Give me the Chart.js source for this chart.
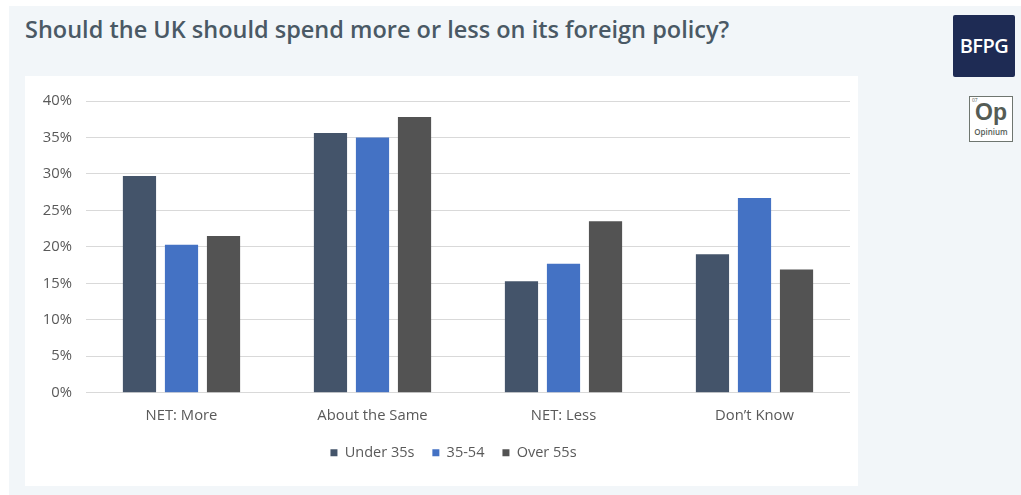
<!DOCTYPE html>
<html>
<head>
<meta charset="utf-8">
<script src="https://cdn.jsdelivr.net/npm/chart.js@4"></script>
<style>
  html, body { margin: 0; padding: 0; background: #ffffff; }
  body { width: 1021px; height: 495px; position: relative; overflow: hidden; font-family: "Open Sans", sans-serif; }
  .bg { position: absolute; left: 9px; top: 6px; right: 0; bottom: 0; background: #f2f6f9; }
  h1 { position: absolute; left: 25px; top: 13px; margin: 0; font-size: 23.5px; font-weight: 600; color: #4a5965; white-space: nowrap; }
  .panel { position: absolute; left: 25px; top: 76px; width: 833px; height: 410px; background: #ffffff; }
  .grafico { position: absolute; left: 25px; top: 76px; }
  .bfpg { position: absolute; left: 953px; top: 15px; width: 62px; height: 62px; background: #1e2b54; border-radius: 2px; color: #fff; font-size: 20px; font-weight: 600; line-height: 62px; text-align: center; letter-spacing: -0.5px; }
  .op { position: absolute; left: 969px; top: 96px; width: 42px; height: 44px; background: #fff; border: 1px solid #6f7670; color: #555c55; text-align: center; }
  .op .num { position: absolute; left: 2px; top: 0px; font-size: 5px; }
  .op .sym { position: absolute; left: 0; right: 0; top: 2px; font-size: 23px; font-weight: 700; line-height: 26px; font-family: "Liberation Sans", sans-serif; }
  .op .name { position: absolute; left: 0; right: 0; top: 29px; font-size: 8px; font-weight: 600; }
</style>
</head>
<body>
<div class="bg"></div>
<h1>Should the UK should spend more or less on its foreign policy?</h1>
<div class="bfpg">BFPG</div>
<div class="op"><span class="num">07</span><span class="sym">Op</span><span class="name">Opinium</span></div>
<div class="panel"></div>
<div class="grafico"><canvas id="chart" width="857" height="410"></canvas></div>
<script>
// survey answers, share of respondents (%) by age group
const categorias = ['NET: More', 'About the Same', 'NET: Less', 'Don\u2019t Know'];
const grupos = ['Under 35s', '35-54', 'Over 55s'];
const menos35 = [29.7, 35.6, 15.3, 19.0];
const de35a54 = [20.3, 35.0, 17.7, 26.7];
const mais55 = [21.5, 37.8, 23.5, 16.9];
const cores = ['#44546a', '#4472c4', '#535353'];

function preencherGrafico() {
  const ctx = document.getElementById('chart');
  const fonteEixo = { family: '"Open Sans", sans-serif', size: 14.8 };
  const fonteLegenda = { family: '"Open Sans", sans-serif', size: 14.5 };
  new Chart(ctx, {
    type: 'bar',
    data: {
      labels: categorias,
      datasets: [menos35, de35a54, mais55].map((valores, i) => ({
        label: grupos[i],
        data: valores,
        backgroundColor: cores[i],
        borderWidth: 0,
        barPercentage: 0.79,
        categoryPercentage: 0.66
      }))
    },
    options: {
      responsive: false,
      animation: false,
      layout: { padding: { top: 25, right: 0, left: 0, bottom: 16 } },
      scales: {
        x: {
          grid: { display: false },
          border: { display: false },
          ticks: { color: '#595959', font: fonteEixo, padding: 6 },
          afterFit: s => { s.height -= 3; }
        },
        y: {
          min: 0,
          max: 40,
          ticks: { stepSize: 5, color: '#595959', font: fonteEixo, padding: 14, callback: v => v + '%' },
          grid: { color: '#d9d9d9', lineWidth: 1, drawTicks: false },
          border: { display: false },
          afterFit: s => { s.width = 61; }
        },
        // empty axis on the right: keeps the plot inside the white panel
        // while the legend centres on the full canvas width
        margem: {
          position: 'right',
          grid: { display: false },
          border: { display: false },
          ticks: { display: false },
          afterFit: s => { s.width = 32; }
        }
      },
      plugins: {
        legend: {
          position: 'bottom',
          labels: { boxWidth: 7, boxHeight: 7, padding: 18, color: '#595959', font: fonteLegenda }
        },
        tooltip: { enabled: false }
      }
    }
  });
}

preencherGrafico();
</script>
</body>
</html>
